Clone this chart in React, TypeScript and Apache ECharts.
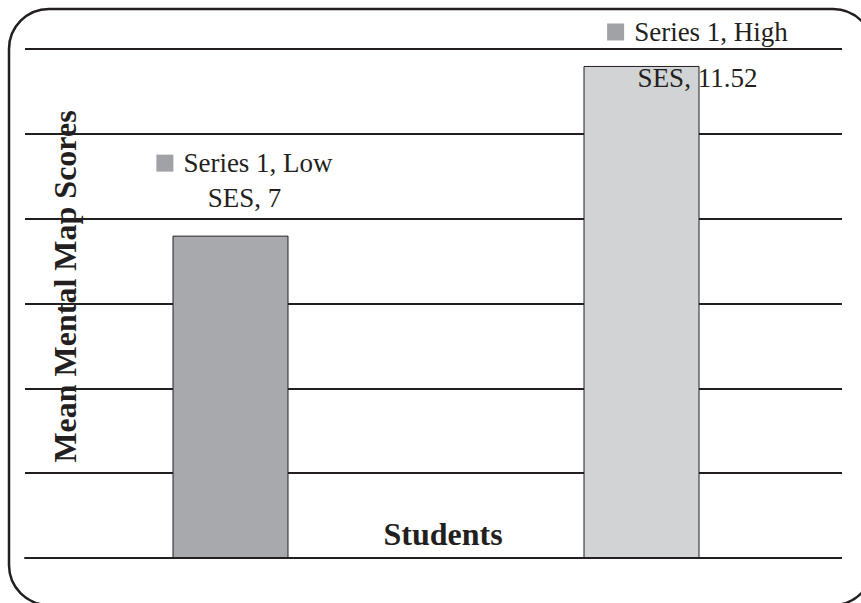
import React, { useEffect, useRef } from "react";
import * as echarts from "echarts";

const categories = ["Low SES", "High SES"];
const seriesName = "Series 1";
const barValues = [7.6, 11.6];
const labelValues = ["7", "11.52"];
const barColors = ["#a7a9ac", "#d1d3d4"];
const yTicks = [0, 2, 4, 6, 8, 10, 12];

const INK = "#231f20";
const FONT = "'Liberation Serif', 'Times New Roman', serif";

export default function App() {
  const ref = useRef<HTMLDivElement>(null);
  useEffect(() => {
    if (!ref.current) return;
    const chart = echarts.init(ref.current, null, { renderer: "svg" });
    const labelCfg = [
      { lineHeight: 35, distance: 20, offset: [14, 0] },
      { lineHeight: 46, distance: 5, offset: [56, 40] },
    ];
    const data = categories.map((c, i) => ({
      value: barValues[i],
      itemStyle: { color: barColors[i] },
      label: {
        show: true,
        position: "top",
        distance: labelCfg[i].distance,
        offset: labelCfg[i].offset,
        lineHeight: labelCfg[i].lineHeight,
        formatter: `{box|}{sp|}${seriesName}, ${c.split(" ")[0]}\n${c.split(" ")[1]}, ${labelValues[i]}`,
        rich: {
          box: { width: 17, height: 17, backgroundColor: "#a0a2a5", lineHeight: labelCfg[i].lineHeight },
          sp: { width: 10, lineHeight: labelCfg[i].lineHeight },
        },
      },
    }));
    const R = 40;
    const L = 9, T = 9, Rt = 873, B = 605;
    const arcStyle = { fill: "none", stroke: INK, lineWidth: 2.5 };
    chart.setOption({
      animation: false,
      backgroundColor: "#ffffff",
      grid: { left: 25, right: 14, top: 49, bottom: 45, outerBoundsMode: "none" },
      xAxis: {
        type: "category",
        data: categories,
        axisLine: { show: true, lineStyle: { color: INK, width: 2 } },
        axisTick: { show: false },
        axisLabel: { show: false },
        name: "Students",
        nameLocation: "middle",
        nameGap: -40,
        nameTextStyle: {
          fontFamily: FONT,
          fontWeight: "bold",
          fontSize: 32,
          color: INK,
          padding: [0, 0, 0, 14],
          verticalAlign: "top",
        },
      },
      yAxis: {
        type: "value",
        min: yTicks[0],
        max: yTicks[yTicks.length - 1],
        interval: yTicks[1] - yTicks[0],
        axisLine: { show: false },
        axisTick: { show: false },
        axisLabel: { show: false },
        splitLine: { show: true, lineStyle: { color: INK, width: 2 } },
        name: "Mean Mental Map Scores",
        nameLocation: "middle",
        nameRotate: 90,
        nameGap: -56,
        nameTextStyle: {
          fontFamily: FONT,
          fontWeight: "bold",
          fontSize: 32,
          color: INK,
          padding: [0, 0, 0, 34],
        },
      },
      series: [
        {
          type: "bar",
          name: seriesName,
          data,
          barWidth: 116,
          itemStyle: { borderColor: INK, borderWidth: 1 },
          label: {
            fontFamily: FONT,
            fontSize: 27,
            color: INK,
          },
          z: 3,
        },
      ],
      graphic: {
        elements: [
          {
            type: "rect",
            z: 50,
            silent: true,
            shape: { x: 842, y: 40, width: 30, height: 530 },
            style: { fill: "#ffffff" },
          },
          { type: "line", z: 60, silent: true, shape: { x1: L + R, y1: T, x2: Rt - R, y2: T }, style: arcStyle },
          { type: "line", z: 60, silent: true, shape: { x1: L, y1: T + R, x2: L, y2: B - R }, style: arcStyle },
          { type: "line", z: 60, silent: true, shape: { x1: L + R, y1: B, x2: Rt - R, y2: B }, style: arcStyle },
          { type: "line", z: 60, silent: true, shape: { x1: Rt, y1: T + R, x2: Rt, y2: B - R }, style: arcStyle },
          { type: "arc", z: 60, silent: true, shape: { cx: L + R, cy: T + R, r: R, startAngle: Math.PI, endAngle: Math.PI * 1.5, clockwise: true }, style: arcStyle },
          { type: "arc", z: 60, silent: true, shape: { cx: Rt - R, cy: T + R, r: R, startAngle: Math.PI * 1.5, endAngle: Math.PI * 2, clockwise: true }, style: arcStyle },
          { type: "arc", z: 60, silent: true, shape: { cx: Rt - R, cy: B - R, r: R, startAngle: 0, endAngle: Math.PI * 0.5, clockwise: true }, style: arcStyle },
          { type: "arc", z: 60, silent: true, shape: { cx: L + R, cy: B - R, r: R, startAngle: Math.PI * 0.5, endAngle: Math.PI, clockwise: true }, style: arcStyle },
        ],
      },
    });
    return () => chart.dispose();
  }, []);
  return (
    <div
      ref={ref}
      style={{ position: "fixed", left: 0, top: 0, width: 861, height: 603, background: "#fff" }}
    />
  );
}
